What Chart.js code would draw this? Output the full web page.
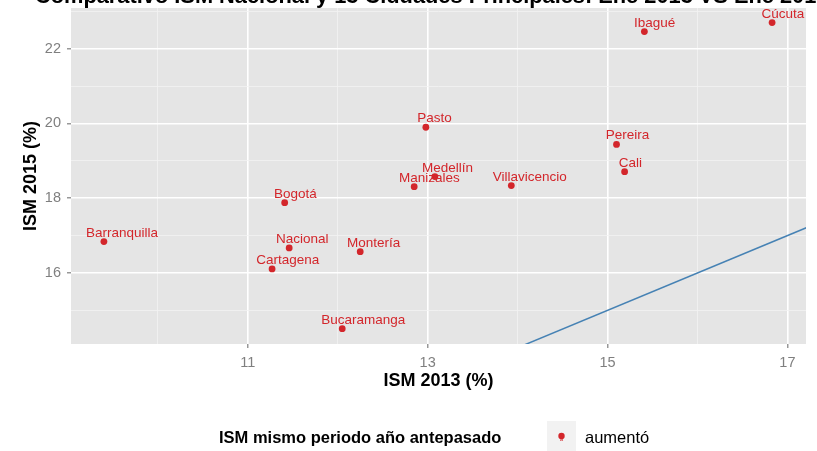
<!DOCTYPE html>
<html><head><meta charset="utf-8">
<script src="https://cdn.jsdelivr.net/npm/chart.js@4/dist/chart.umd.min.js"></script>
<style>html,body{margin:0;padding:0;background:#fff}#wrap{width:817px;height:451px}</style>
</head><body><div id="wrap"><canvas id="c" width="817" height="451"></canvas></div>
<script>
// ---- data ----
const cities  = ['Cúcuta','Ibagué','Pasto','Pereira','Cali','Medellín','Manizales','Villavicencio','Bogotá','Barranquilla','Nacional','Montería','Cartagena','Bucaramanga'];
const ism2013 = [16.83, 15.41, 12.98, 15.10, 15.19, 13.08, 12.85, 13.93, 11.41, 9.40, 11.46, 12.25, 11.27, 12.05];
const ism2015 = [22.70, 22.46, 19.90, 19.44, 18.71, 18.58, 18.31, 18.34, 17.88, 16.84, 16.67, 16.57, 16.11, 14.51];
const refLine = [9, 18];               // y = x reference line
const xGrid = [10, 11, 12, 13, 14, 15, 16, 17];
const xLabeled = [11, 13, 15, 17];
const yGrid = [15, 16, 17, 18, 19, 20, 21, 22, 23];
const yLabeled = [16, 18, 20, 22];
const titleText = 'Comparativo ISM Nacional y 13 Ciudades Principales: Ene 2013 VS Ene 2015';
const xTitle = 'ISM 2013 (%)';
const yTitle = 'ISM 2015 (%)';
const legendTitle = 'ISM mismo periodo año antepasado';
const legendItem = 'aumentó';

const RED = '#d3262b';
const FONT = '"Liberation Sans", Arial, Helvetica, sans-serif';

const decor = {
  id: 'decor',
  beforeDraw(chart) {
    const {ctx, chartArea: a} = chart;
    ctx.save();
    ctx.fillStyle = '#e5e5e5';
    ctx.fillRect(a.left, a.top, a.right - a.left, a.bottom - a.top);
    ctx.restore();
  },
  afterDatasetsDraw(chart) {
    const {ctx} = chart;
    const xs = chart.scales.x, ys = chart.scales.y;
    ctx.save();
    // point labels
    ctx.font = '13.5px ' + FONT;
    ctx.fillStyle = RED;
    ctx.textBaseline = 'alphabetic';
    ctx.textAlign = 'left';
    cities.forEach((c, i) => {
      const px = xs.getPixelForValue(ism2013[i]);
      const py = ys.getPixelForValue(ism2015[i]);
      const w = ctx.measureText(c).width;
      ctx.fillText(c, px - 0.25 * w, py - 5);
    });
    // main title (partly cut off at top)
    ctx.fillStyle = '#000';
    ctx.font = 'bold 21.8px ' + FONT;
    ctx.fillText(titleText, 35, 3);
    // axis titles
    ctx.font = 'bold 18px ' + FONT;
    ctx.textAlign = 'center';
    ctx.fillText(xTitle, (chart.chartArea.left + chart.chartArea.right) / 2, 386);
    ctx.save();
    ctx.translate(36, (chart.chartArea.top + chart.chartArea.bottom) / 2);
    ctx.rotate(-Math.PI / 2);
    ctx.fillText(yTitle, 0, 0);
    ctx.restore();
    // legend
    ctx.textAlign = 'left';
    ctx.font = 'bold 16.5px ' + FONT;
    ctx.fillText(legendTitle, 219, 443);
    ctx.fillStyle = '#f2f2f2';
    ctx.fillRect(547, 421, 29, 30);
    ctx.fillStyle = RED;
    ctx.beginPath();
    ctx.arc(561.5, 436, 3.2, 0, Math.PI * 2);
    ctx.fill();
    ctx.font = '6px ' + FONT;
    ctx.textAlign = 'center';
    ctx.fillText('a', 561.5, 441);
    ctx.fillStyle = '#000';
    ctx.textAlign = 'left';
    ctx.font = '16.5px ' + FONT;
    ctx.fillText(legendItem, 585, 443);
    ctx.restore();
  }
};

new Chart(document.getElementById('c'), {
  type: 'scatter',
  data: {
    datasets: [
      {
        type: 'line',
        data: refLine.map(v => ({x: v, y: v})),
        borderColor: '#4682b4',
        borderWidth: 1.5,
        pointRadius: 0,
        fill: false,
        order: 2
      },
      {
        data: cities.map((c, i) => ({x: ism2013[i], y: ism2015[i]})),
        backgroundColor: RED,
        borderColor: RED,
        pointRadius: 3.4,
        pointBorderWidth: 0,
        order: 1
      }
    ]
  },
  options: {
    responsive: false,
    devicePixelRatio: 1,
    animation: false,
    layout: {padding: {left: 0, top: 8, right: 11, bottom: 0}},
    plugins: {legend: {display: false}, tooltip: {enabled: false}, title: {display: false}},
    scales: {
      x: {
        type: 'linear', min: 9.034, max: 17.207,
        afterBuildTicks: s => { s.ticks = xGrid.map(v => ({value: v})); },
        afterFit: s => { s.height = 107; s.paddingLeft = 0; s.paddingRight = 0; s.paddingTop = 0; s.paddingBottom = 0; },
        border: {display: false},
        grid: {
          color: c => xLabeled.includes(c.tick.value) ? '#ffffff' : '#f2f2f2',
          lineWidth: c => xLabeled.includes(c.tick.value) ? 1.6 : 0.8,
          tickColor: c => xLabeled.includes(c.tick.value) ? '#7f7f7f' : 'rgba(0,0,0,0)',
          tickLength: 4, tickWidth: 1.2
        },
        ticks: {
          autoSkip: false, maxRotation: 0, padding: 6,
          color: '#7f7f7f', font: {family: FONT, size: 14.5},
          callback: v => xLabeled.includes(v) ? String(v) : ''
        }
      },
      y: {
        type: 'linear', min: 14.10, max: 23.09,
        afterBuildTicks: s => { s.ticks = yGrid.map(v => ({value: v})); },
        afterFit: s => { s.width = 71; s.paddingLeft = 0; s.paddingRight = 0; s.paddingTop = 0; s.paddingBottom = 0; },
        border: {display: false},
        grid: {
          color: c => yLabeled.includes(c.tick.value) ? '#ffffff' : '#f2f2f2',
          lineWidth: c => yLabeled.includes(c.tick.value) ? 1.6 : 0.8,
          tickColor: c => yLabeled.includes(c.tick.value) ? '#7f7f7f' : 'rgba(0,0,0,0)',
          tickLength: 4, tickWidth: 1.2
        },
        ticks: {
          autoSkip: false, padding: 6,
          color: '#7f7f7f', font: {family: FONT, size: 14.5},
          callback: v => yLabeled.includes(v) ? String(v) : ''
        }
      }
    }
  },
  plugins: [decor]
});
</script></body></html>
